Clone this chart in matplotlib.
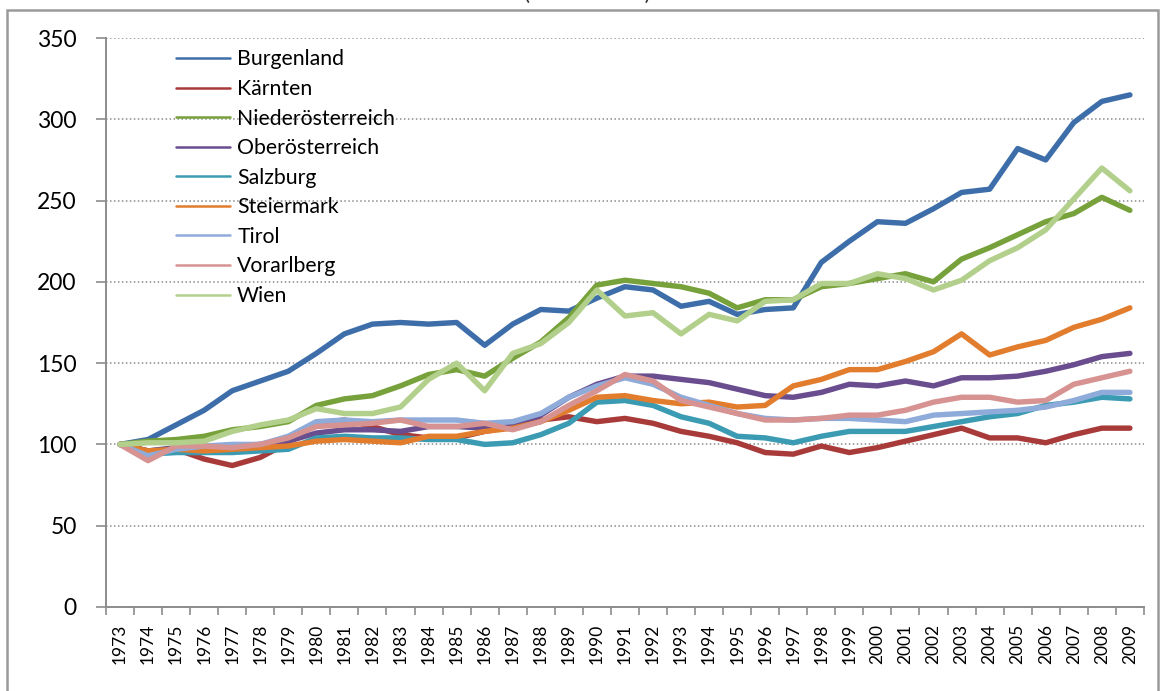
import matplotlib
matplotlib.use("Agg")
import matplotlib.pyplot as plt
from matplotlib.patches import Rectangle
import numpy as np

plt.rcParams['font.family'] = ['Lato', 'DejaVu Sans']

years = [str(y) for y in range(1973, 2010)]

burgenland = [100, 103, 112, 121, 133, 139, 145, 156, 168, 174, 175, 174, 175, 161, 174, 183, 182, 190, 197,
              195, 185, 188, 180, 183, 184, 212, 225, 237, 236, 245, 255, 257, 282, 275, 298, 311, 315]
kaernten = [100, 96, 97, 91, 87, 92, 101, 113, 115, 111, 106, 104, 104, 108, 111, 115, 117, 114, 116,
            113, 108, 105, 101, 95, 94, 99, 95, 98, 102, 106, 110, 104, 104, 101, 106, 110, 110]
niederoesterreich = [100, 102, 103, 105, 109, 111, 114, 124, 128, 130, 136, 143, 146, 142, 153, 163, 178, 198, 201,
                     199, 197, 193, 184, 189, 189, 197, 199, 202, 205, 200, 214, 221, 229, 237, 242, 252, 244]
oberoesterreich = [100, 96, 98, 98, 99, 100, 102, 107, 109, 109, 108, 111, 111, 110, 111, 118, 129, 137, 142,
                   142, 140, 138, 134, 130, 129, 132, 137, 136, 139, 136, 141, 141, 142, 145, 149, 154, 156]
salzburg = [100, 94, 95, 95, 95, 96, 97, 104, 105, 104, 104, 103, 103, 100, 101, 106, 113, 126, 127,
            124, 117, 113, 105, 104, 101, 105, 108, 108, 108, 111, 114, 117, 119, 124, 126, 129, 128]
steiermark = [100, 96, 97, 96, 97, 98, 99, 102, 103, 102, 101, 105, 105, 108, 110, 114, 121, 129, 130,
              127, 125, 126, 123, 124, 136, 140, 146, 146, 151, 157, 168, 155, 160, 164, 172, 177, 184]
tirol = [100, 93, 97, 99, 100, 100, 105, 114, 115, 114, 115, 115, 115, 113, 114, 119, 129, 136, 141,
         137, 129, 124, 119, 116, 115, 116, 116, 115, 114, 118, 119, 120, 121, 123, 127, 132, 132]
vorarlberg = [100, 90, 99, 99, 98, 100, 104, 111, 112, 113, 115, 111, 111, 113, 109, 114, 124, 133, 143,
              139, 127, 123, 119, 115, 115, 116, 118, 118, 121, 126, 129, 129, 126, 127, 137, 141, 145]
wien = [100, 101, 101, 102, 108, 112, 115, 122, 119, 119, 123, 140, 150, 133, 156, 162, 175, 195, 179,
        181, 168, 180, 176, 188, 189, 199, 199, 205, 202, 195, 201, 213, 221, 232, 251, 270, 256]

names = ["Burgenland", "Kärnten", "Niederösterreich", "Oberösterreich", "Salzburg",
         "Steiermark", "Tirol", "Vorarlberg", "Wien"]
series = [burgenland, kaernten, niederoesterreich, oberoesterreich, salzburg,
          steiermark, tirol, vorarlberg, wien]
colors = ["#3e6ea9", "#a83b39", "#77a13b", "#6a4d8f", "#3a9bb3",
          "#e27d2e", "#8eabd9", "#d69391", "#b2d08c"]

fig = plt.figure(figsize=(11.63, 6.91), dpi=100)
ax = fig.add_axes([0.0911, 0.1216, 0.8925, 0.8234])

x = np.arange(len(years))
for vals, name, c in zip(series, names, colors):
    ax.plot(x, vals, color=c, lw=3.9, label=name, solid_joinstyle='round', solid_capstyle='round')

ax.set_xlim(-0.5, len(years) - 0.5)
ax.set_ylim(0, 350)
ax.set_yticks(range(0, 351, 50))
for v in range(50, 351, 50):
    ax.axhline(v, color="#8c8c8c", lw=1.1, ls=(0, (1, 1.6)), zorder=0)

ax.set_xticks(x)
ax.set_xticklabels(years, rotation=90, fontsize=12.5)
ax.set_xticks(np.arange(-0.5, len(years), 1), minor=True)
ax.tick_params(axis='x', which='major', length=0, pad=12)
ax.tick_params(axis='x', which='minor', length=6, color="#8c8c8c", width=1.2)
ax.tick_params(axis='y', length=7, color="#8c8c8c", width=1.2, labelsize=16.5, pad=14)

for s in ["top", "right"]:
    ax.spines[s].set_visible(False)
for s in ["left", "bottom"]:
    ax.spines[s].set_color("#8c8c8c")
    ax.spines[s].set_linewidth(1.4)

leg = ax.legend(loc="upper left", bbox_to_anchor=(0.049, 1.0135), frameon=False, fontsize=15.3,
                handlelength=2.55, handletextpad=0.33, labelspacing=0.45)
for h in leg.get_lines():
    h.set_linewidth(1.8)

# outer chart border, cut off at the bottom and top edges of the picture
fig.patches.append(Rectangle((7 / 1163, -0.05), 1151 / 1163, 1.05 - 10 / 691, transform=fig.transFigure,
                             fill=False, edgecolor="#9a9a9a", lw=1.8))
fig.text(0.505, 1 + 0.5 / 691, "(1973 = 100)", ha="center", va="baseline", fontsize=16, color="#333333")

fig.savefig("out.png", dpi=100)
